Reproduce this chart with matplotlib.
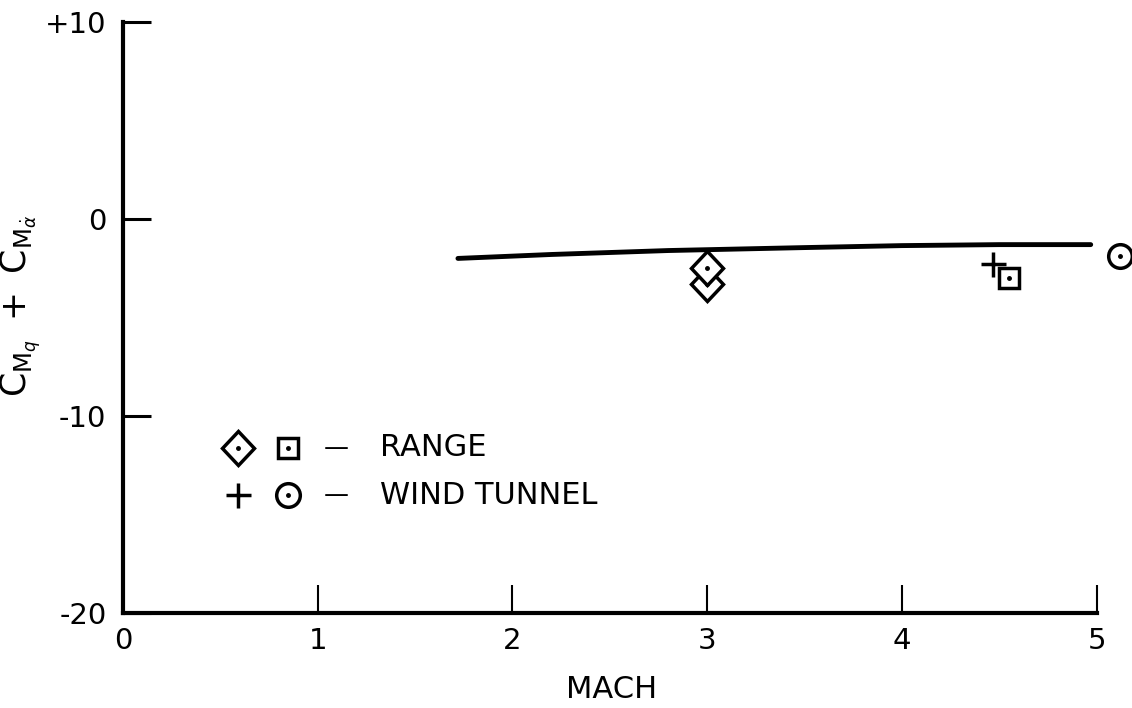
import matplotlib
matplotlib.use("Agg")
import matplotlib.pyplot as plt
from matplotlib.markers import MarkerStyle
from matplotlib.transforms import Affine2D

plt.rcParams['font.family'] = ['DejaVu Sans']
plt.rcParams['axes.unicode_minus'] = False
plt.rcParams['mathtext.fontset'] = 'dejavusans'

# theory curve
mach_curve = [1.72, 2.2, 2.8, 3.5, 4.0, 4.5, 4.97]
cm_curve = [-2.0, -1.8, -1.6, -1.45, -1.35, -1.3, -1.3]

# range data
range_diamond_mach = [3.0, 3.0]
range_diamond_cm = [-3.3, -2.5]
range_square_mach = [4.55]
range_square_cm = [-3.0]

# wind tunnel data
wt_plus_mach = [4.47]
wt_plus_cm = [-2.3]
wt_circle_mach = [5.12]
wt_circle_cm = [-1.9]

xticks = [0, 1, 2, 3, 4, 5]
xtick_labels = ["0", "1", "2", "3", "4", "5"]
yticks = [-20, -10, 0, 10]
ytick_labels = ["-20", "-10", "0", "+10"]

diamond = MarkerStyle("D", transform=Affine2D().scale(1.25, 1.35))

fig = plt.figure(figsize=(11.32, 7.08), dpi=100)
ax = fig.add_axes([0.1087, 0.134, 0.860, 0.835])

ax.plot(mach_curve, cm_curve, color="black", lw=3.5, solid_capstyle="round")

for m, c in zip(range_diamond_mach, range_diamond_cm):
    ax.plot(m, c, marker=diamond, ms=13, mfc="white", mec="black", mew=2.5, clip_on=False)
    ax.plot(m, c, marker=".", ms=5, color="black", clip_on=False)
ax.plot(range_square_mach, range_square_cm, ls="none", marker="s", ms=15,
        mfc="white", mec="black", mew=2.5, clip_on=False)
ax.plot(range_square_mach, range_square_cm, ls="none", marker=".", ms=5, color="black")
ax.plot(wt_plus_mach, wt_plus_cm, ls="none", marker="+", ms=18, mew=2.5, color="black")
ax.plot(wt_circle_mach, wt_circle_cm, ls="none", marker="o", ms=17,
        mfc="white", mec="black", mew=2.5, clip_on=False)
ax.plot(wt_circle_mach, wt_circle_cm, ls="none", marker=".", ms=5, color="black", clip_on=False)

ax.set_xlim(0, 5)
ax.set_ylim(-20, 10)
ax.set_xticks(xticks)
ax.set_xticklabels(xtick_labels)
ax.set_yticks(yticks)
ax.set_yticklabels(ytick_labels)

for s in ["top", "right"]:
    ax.spines[s].set_visible(False)
for s in ["left", "bottom"]:
    ax.spines[s].set_linewidth(3)
    ax.spines[s].set_capstyle("projecting")

ax.tick_params(axis="x", direction="in", length=20, width=1.5, labelsize=21, pad=10)
ax.tick_params(axis="y", direction="in", length=20, width=2.2, labelsize=21, pad=12)

ax.set_xlabel("MACH", fontsize=22)
ax.xaxis.set_label_coords(0.502, -0.105)
ax.set_ylabel(r"$\mathrm{C}_{\mathrm{M}_q}\ +\ \mathrm{C}_{\mathrm{M}_{\dot{\alpha}}}$", fontsize=25)
ax.yaxis.set_label_coords(-0.082, 0.52)

# legend drawn as text rows
tr = ax.transAxes
row1, row2 = 0.28, 0.199
ax.plot(0.118, row1, marker=diamond, ms=13, mfc="white", mec="black", mew=2.5, transform=tr)
ax.plot(0.118, row1, marker=".", ms=5, color="black", transform=tr)
ax.plot(0.169, row1, marker="s", ms=15, mfc="white", mec="black", mew=2.5, transform=tr)
ax.plot(0.169, row1, marker=".", ms=5, color="black", transform=tr)
ax.plot(0.118, row2, marker="+", ms=18, mew=2.5, color="black", transform=tr)
ax.plot(0.169, row2, marker="o", ms=17, mfc="white", mec="black", mew=2.5, transform=tr)
ax.plot(0.169, row2, marker=".", ms=5, color="black", transform=tr)
ax.text(0.219, row1, "\u2014", transform=tr, fontsize=18, ha="center", va="center")
ax.text(0.219, row2, "\u2014", transform=tr, fontsize=18, ha="center", va="center")
ax.text(0.264, row1, "RANGE", transform=tr, fontsize=22, ha="left", va="center")
ax.text(0.264, row2, "WIND TUNNEL", transform=tr, fontsize=22, ha="left", va="center")

fig.savefig("out.png", dpi=100)
